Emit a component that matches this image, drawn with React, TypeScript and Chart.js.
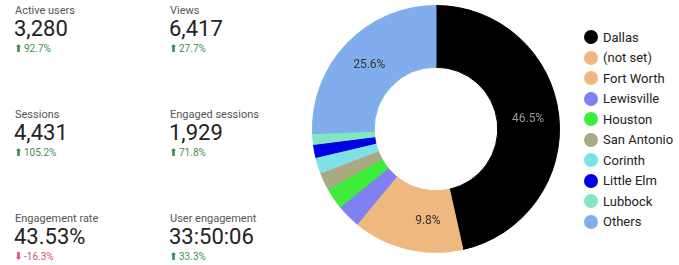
import React, { useEffect, useRef } from "react";
import { Chart, registerables } from "chart.js";

Chart.register(...registerables);

const cities = ["Dallas", "(not set)", "Fort Worth", "Lewisville", "Houston", "San Antonio", "Corinth", "Little Elm", "Lubbock", "Others"];
const shares = [46.5, 9.8, 4.7, 3.1, 2.8, 2.3, 2.1, 1.7, 1.4, 25.6];
const cityColors = ["#000000", "#efb87f", "#efb87f", "#8080f2", "#3ded3a", "#a9a982", "#80e0e8", "#0000e6", "#82e6c2", "#80aeec"];
const labelColors = ["#9a9a9a", "#333333", "#333333", "#333333", "#333333", "#333333", "#333333", "#333333", "#333333", "#333333"];

const metricNames = ["Active users", "Views", "Sessions", "Engaged sessions", "Engagement rate", "User engagement"];
const metricValues = ["3,280", "6,417", "4,431", "1,929", "43.53%", "33:50:06"];
const metricChanges = ["92.7%", "27.7%", "105.2%", "71.8%", "-16.3%", "33.3%"];
const metricUp = [true, true, true, true, false, true];

const FONT = "Roboto, 'Noto Sans', sans-serif";

const sliceLabels = {
  id: "sliceLabels",
  afterDatasetsDraw(chart: any) {
    const ctx = chart.ctx;
    const meta = chart.getDatasetMeta(0);
    const data = chart.data.datasets[0].data as number[];
    const total = data.reduce((a: number, b: number) => a + b, 0);
    ctx.save();
    ctx.font = `12px ${FONT}`;
    ctx.textAlign = "center";
    ctx.textBaseline = "middle";
    meta.data.forEach((arc: any, i: number) => {
      const v = data[i];
      if (v / total < 0.05) return;
      const p = arc.tooltipPosition();
      ctx.fillStyle = labelColors[i];
      ctx.fillText(`${v.toFixed(1)}%`, p.x, p.y);
    });
    ctx.restore();
  },
};

function Arrow({ up }: { up: boolean }) {
  const color = up ? "#3f8f52" : "#e0506a";
  return (
    <svg width="5" height="8" viewBox="0 0 5 8" style={{ display: "inline-block", marginRight: 3, verticalAlign: "0px" }}>
      {up ? (
        <polygon points="2.5,0 5,3 3.8,3 3.8,8 1.2,8 1.2,3 0,3" fill={color} />
      ) : (
        <polygon points="2.5,8 5,5 3.8,5 3.8,0 1.2,0 1.2,5 0,5" fill={color} />
      )}
    </svg>
  );
}

function Metric({ i }: { i: number }) {
  const col = i % 2;
  const row = Math.floor(i / 2);
  const left = col === 0 ? 14 : 169;
  const top = [0, 104, 208][row];
  const up = metricUp[i];
  return (
    <div style={{ position: "absolute", left, top, width: 150, height: 60 }}>
      <div style={{ position: "absolute", top: 5, left: 1, fontSize: 11, lineHeight: "11px", color: "#555", whiteSpace: "nowrap" }}>
        {metricNames[i]}
      </div>
      <div style={{ position: "absolute", top: 18, left: 0, fontSize: 22, lineHeight: "22px", color: "#222", whiteSpace: "nowrap" }}>
        {metricValues[i]}
      </div>
      <div style={{ position: "absolute", top: 44, left: 2, fontSize: 10, lineHeight: "10px", color: up ? "#3f8f52" : "#e0506a", whiteSpace: "nowrap" }}>
        <Arrow up={up} />
        {metricChanges[i]}
      </div>
    </div>
  );
}

export default function App() {
  const canvasRef = useRef<HTMLCanvasElement | null>(null);

  useEffect(() => {
    if (!canvasRef.current) return;
    const chart = new Chart(canvasRef.current, {
      type: "doughnut",
      data: {
        labels: cities,
        datasets: [
          {
            data: shares,
            backgroundColor: cityColors,
            borderColor: cityColors,
            borderWidth: 1,
          },
        ],
      },
      options: {
        responsive: false,
        animation: false,
        devicePixelRatio: 1,
        cutout: "50%",
        layout: { padding: 0 },
        plugins: {
          legend: { display: false },
          tooltip: { enabled: false },
        },
      },
      plugins: [sliceLabels],
    });
    return () => chart.destroy();
  }, []);

  return (
    <div style={{ position: "fixed", left: 0, top: 0, width: 679, height: 265, background: "#fff", fontFamily: FONT, overflow: "hidden" }}>
      {metricNames.map((_, i) => (
        <Metric key={i} i={i} />
      ))}
      <canvas ref={canvasRef} width={248} height={248} style={{ position: "absolute", left: 312, top: 5, width: 248, height: 248 }} />
      <div style={{ position: "absolute", left: 584, top: 27 }}>
        {cities.map((c, i) => (
          <div key={c} style={{ position: "absolute", left: 0, top: i * 20.55, height: 20, whiteSpace: "nowrap", display: "flex", alignItems: "center" }}>
            <span style={{ display: "inline-block", width: 14, height: 14, borderRadius: "50%", background: cityColors[i], marginRight: 5 }} />
            <span style={{ fontSize: 13, color: "#222" }}>{c}</span>
          </div>
        ))}
      </div>
    </div>
  );
}
